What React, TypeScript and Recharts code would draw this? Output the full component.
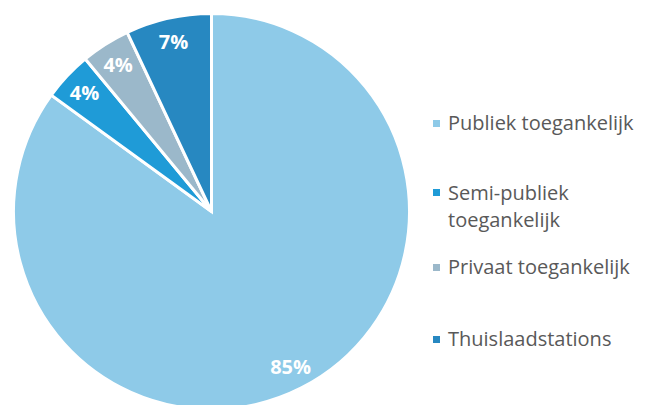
import { PieChart, Pie, Cell } from "recharts"

const categories = ["Publiek toegankelijk", "Semi-publiek toegankelijk", "Privaat toegankelijk", "Thuislaadstations"]
const legendLines = [["Publiek toegankelijk"], ["Semi-publiek", "toegankelijk"], ["Privaat toegankelijk"], ["Thuislaadstations"]]
const shares = [85, 4, 4, 7]
const colors = ["#8ecae8", "#1f9bd7", "#9bb8ca", "#2788c1"]

const data = categories.map((name, i) => ({ name, value: shares[i] }))

const RAD = Math.PI / 180

function renderLabel(props: any) {
  const { cx, cy, midAngle, outerRadius, value } = props
  const r = outerRadius * 0.88
  const x = cx + r * Math.cos(-midAngle * RAD)
  const y = cy + r * Math.sin(-midAngle * RAD)
  return (
    <text x={x} y={y} fill="#ffffff" textAnchor="middle" dominantBaseline="central"
          style={{ fontFamily: "'Open Sans', sans-serif", fontWeight: 700, fontSize: 20 }}>
      {value}%
    </text>
  )
}

export default function App() {
  return (
    <div style={{ position: "relative", width: 643, height: 397, fontFamily: "'Open Sans', sans-serif" }}>
      <PieChart width={643} height={397} margin={{ top: 0, right: 0, bottom: 0, left: 0 }}>
        <Pie
          data={data}
          dataKey="value"
          cx={203.5}
          cy={203.5}
          outerRadius={198}
          startAngle={90}
          endAngle={-270}
          stroke="#ffffff"
          strokeWidth={3}
          label={renderLabel}
          labelLine={false}
          isAnimationActive={false}
        >
          {data.map((d, i) => (
            <Cell key={d.name} fill={colors[i]} />
          ))}
        </Pie>
      </PieChart>

      {/* legend, positioned like the source */}
      {legendLines.map((lines, i) => {
        const lh = lines.length > 1 ? 27 : 24
        return (
          <div key={i} style={{ position: "absolute", left: 425, top: [103, 171, 247, 319][i], display: "flex", alignItems: "flex-start" }}>
            <span style={{ width: 7, height: 7, background: colors[i], marginTop: lh / 2 - 3.5, marginRight: 8, flexShrink: 0 }} />
            <span style={{ color: "#595959", fontSize: 20, lineHeight: `${lh}px` }}>
              {lines.map((l) => <div key={l}>{l}</div>)}
            </span>
          </div>
        )
      })}
    </div>
  )
}
